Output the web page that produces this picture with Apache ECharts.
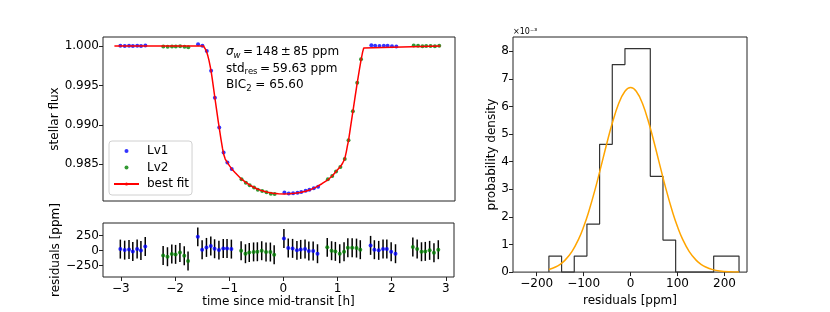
<!DOCTYPE html>
<html>
<head>
<meta charset="utf-8">
<script src="https://cdn.jsdelivr.net/npm/echarts@6/dist/echarts.min.js"></script>
<style>html,body{margin:0;padding:0;background:#fff}#c{width:830px;height:312px}</style>
</head>
<body>
<div id="c"></div>
<script>
// ---- data ----
const timeLv1 = [-3.01,-2.93,-2.85,-2.78,-2.70,-2.63,-2.55, -1.58,-1.50,-1.42,-1.34,-1.27,-1.19,-1.11,-1.04,-0.96, 0.01,0.09,0.17,0.25,0.32,0.40,0.47,0.55,0.63, 1.61,1.68,1.76,1.84,1.91,1.99,2.07];
const fluxLv1 = [1.00003,1.00001,1.00002,0.99999,1.00003,1.00000,1.00007, 1.00022,1.00002,0.99936,0.99686,0.99342,0.98966,0.98648,0.98521,0.98440, 0.98141,0.98128,0.98131,0.98137,0.98148,0.98162,0.98176,0.98196,0.98213, 1.00009,1.00002,1.00001,1.00003,1.00003,0.99998,0.99995];
const resLv1 = [27,10,22,-12,27,5,72, 231,17,55,77,33,10,38,38,27, 202,44,39,6,22,28,-6,-6,-50, 89,17,6,28,28,-17,-50];

const timeLv2 = [-2.22,-2.14,-2.06,-1.99,-1.91,-1.83,-1.76, -0.78,-0.70,-0.63,-0.55,-0.48,-0.40,-0.32,-0.24,-0.17, 0.81,0.89,0.96,1.04,1.12,1.19,1.27,1.35,1.42, 2.39,2.47,2.55,2.62,2.70,2.78,2.86];
const fluxLv2 = [0.99992,0.99990,0.99994,0.99994,0.99997,0.99990,0.99983, 0.98308,0.98266,0.98232,0.98203,0.98177,0.98159,0.98143,0.98126,0.98121, 0.98308,0.98350,0.98406,0.98465,0.98567,0.98804,0.99173,0.99533,0.99831, 1.00006,1.00003,0.99998,0.99999,1.00001,0.99997,1.00002];
const resLv2 = [-78,-100,-56,-61,-28,-85,-173, 0,-50,-28,-20,-17,0,-22,-22,-67, 56,0,-11,-50,-17,50,50,44,17, 61,28,-17,-11,6,-33,17];

const resErr = 158; // ppm, error bar half-length

const modelTime = [-3.12,-1.48,-1.46,-1.44,-1.42,-1.40,-1.38,-1.36,-1.34,-1.32,-1.30,-1.27,-1.24,-1.21,-1.19,-1.16,-1.13,-1.11,-1.08,-1.04,-1.00,-0.96,-0.90,-0.78,-0.70,-0.60,-0.50,-0.40,-0.30,-0.20,-0.10,0.00,0.10,0.20,0.30,0.40,0.50,0.60,0.70,0.81,0.89,0.96,1.04,1.08,1.12,1.15,1.17,1.19,1.23,1.27,1.31,1.35,1.39,1.42,1.45,1.47,1.49,2.88];
const modelFlux = [1.0,1.0,0.99985,0.99955,0.9992,0.99875,0.9982,0.99755,0.9968,0.9959,0.9949,0.9934,0.99195,0.9905,0.9896,0.98825,0.9870,0.9863,0.98565,0.9852,0.98478,0.9844,0.98395,0.9831,0.9827,0.98223,0.98188,0.98162,0.98143,0.98131,0.98124,0.98122,0.98125,0.98131,0.98141,0.98157,0.9818,0.98212,0.98252,0.98302,0.9835,0.98407,0.9847,0.98512,0.98567,0.9866,0.98735,0.9880,0.98985,0.99168,0.99352,0.99532,0.9970,0.9982,0.99925,0.99975,1.0,1.0];

const histEdges = [-174,-147,-120,-93,-66,-39,-12,15,42,69,96,123,150,177,204,231];
const histDensity = [0.58,0,0.58,1.74,4.63,7.52,8.10,8.10,3.47,1.16,0,0,0,0.58,0.58]; // x1e-3

const gaussX = [-174,-160,-150,-140,-125,-110,-100,-90,-75,-60,-50,-40,-25,-12,0,12,25,40,50,60,75,90,100,110,125,140,150,160,175,190,210,231];
const gaussY = [0.095,0.183,0.283,0.425,0.743,1.220,1.640,2.141,3.033,4.033,4.707,5.342,6.127,6.556,6.69,6.556,6.127,5.342,4.707,4.033,3.033,2.141,1.640,1.220,0.743,0.425,0.283,0.183,0.090,0.042,0.014,0.004];

const fluxTicks = [0.985,0.990,0.995,1.000];
const resTicks = [-250,0,250];
const timeTicks = [-3,-2,-1,0,1,2,3];
const histXTicks = [-200,-100,0,100,200];
const histYTicks = [0,1,2,3,4,5,6,7,8];

// ---- helpers ----
const FONT = 'DejaVu Sans';
const minus = v => String(v).replace('-', '\u2212');
const zip = (a, b) => a.map((v, i) => [v, b[i]]);
const errData = (t, r) => t.map((v, i) => [v, r[i] - resErr, r[i] + resErr]);
const stepData = [[histEdges[0], 0]];
histDensity.forEach((h, i) => { stepData.push([histEdges[i], h]); stepData.push([histEdges[i + 1], h]); });
stepData.push([histEdges[histEdges.length - 1], 0]);

const axisCommon = {
  axisLine: { show: false, onZero: false },
  splitLine: { show: false },
  axisTick: { show: true, length: 4, lineStyle: { color: '#222', width: 1 } },
  axisLabel: { color: '#000', fontSize: 12, fontFamily: FONT, margin: 4 },
  nameTextStyle: { color: '#000', fontSize: 12, fontFamily: FONT }
};
const xLabel = Object.assign({}, axisCommon.axisLabel, { margin: 6 });
const gridStyle = { show: true, borderColor: '#222', borderWidth: 1, backgroundColor: 'transparent' };

const errRender = (params, api) => {
  const p1 = api.coord([api.value(0), api.value(1)]);
  const p2 = api.coord([api.value(0), api.value(2)]);
  return { type: 'line', shape: { x1: p1[0], y1: p1[1], x2: p2[0], y2: p2[1] }, style: { stroke: '#000', lineWidth: 1.5 } };
};

const TS = '\u2009';
const chart = echarts.init(document.getElementById('c'), null, { renderer: 'canvas' });
chart.setOption({
  animation: false,
  textStyle: { fontFamily: FONT },
  grid: [
    Object.assign({ left: 103, top: 37, width: 352, height: 164 }, gridStyle),
    Object.assign({ left: 103, top: 223, width: 351, height: 54 }, gridStyle),
    Object.assign({ left: 513, top: 37, width: 234, height: 240 }, gridStyle)
  ],
  xAxis: [
    Object.assign({}, axisCommon, { type: 'value', gridIndex: 0, min: -3.33, max: 3.15, axisTick: { show: false }, axisLabel: { show: false } }),
    Object.assign({}, axisCommon, { type: 'value', gridIndex: 1, min: -3.33, max: 3.15,
      axisTick: Object.assign({}, axisCommon.axisTick, { customValues: timeTicks }),
      axisLabel: Object.assign({}, xLabel, { customValues: timeTicks, formatter: v => minus(v) }),
      name: 'time since mid-transit [h]', nameLocation: 'middle', nameGap: 18 }),
    Object.assign({}, axisCommon, { type: 'value', gridIndex: 2, min: -250.5, max: 248,
      axisTick: Object.assign({}, axisCommon.axisTick, { customValues: histXTicks }),
      axisLabel: Object.assign({}, xLabel, { customValues: histXTicks, formatter: v => minus(v) }),
      name: 'residuals [ppm]', nameLocation: 'middle', nameGap: 18 })
  ],
  yAxis: [
    Object.assign({}, axisCommon, { type: 'value', gridIndex: 0, min: 0.98033, max: 1.00114,
      axisTick: Object.assign({}, axisCommon.axisTick, { customValues: fluxTicks }),
      axisLabel: Object.assign({}, axisCommon.axisLabel, { customValues: fluxTicks, formatter: v => v.toFixed(3) }),
      name: 'stellar flux', nameLocation: 'middle', nameGap: 41 }),
    Object.assign({}, axisCommon, { type: 'value', gridIndex: 1, min: -438, max: 462,
      axisTick: Object.assign({}, axisCommon.axisTick, { customValues: resTicks }),
      axisLabel: Object.assign({}, axisCommon.axisLabel, { customValues: resTicks, formatter: v => minus(v) }),
      name: 'residuals [ppm]', nameLocation: 'middle', nameGap: 41 }),
    Object.assign({}, axisCommon, { type: 'value', gridIndex: 2, min: 0, max: 8.52,
      axisTick: Object.assign({}, axisCommon.axisTick, { customValues: histYTicks }),
      axisLabel: Object.assign({}, axisCommon.axisLabel, { customValues: histYTicks }),
      name: 'probability density', nameLocation: 'middle', nameGap: 15 })
  ],
  legend: {
    data: ['Lv1', 'Lv2', 'best fit'],
    orient: 'vertical', left: 109, top: 141,
    itemWidth: 25, itemHeight: 4, itemGap: 0.5,
    padding: [2, 3, 3, 4],
    borderColor: '#d0d0d0', borderWidth: 1, borderRadius: 3,
    backgroundColor: 'rgba(255,255,255,0.8)',
    textStyle: { color: '#000', fontSize: 12, fontFamily: FONT, lineHeight: 16, padding: [0, 0, 0, 3] }
  },
  series: [
    { name: 'Lv1', type: 'scatter', xAxisIndex: 0, yAxisIndex: 0, data: zip(timeLv1, fluxLv1), symbol: 'circle', symbolSize: 4, itemStyle: { color: '#0000ff' }, z: 3 },
    { name: 'Lv2', type: 'scatter', xAxisIndex: 0, yAxisIndex: 0, data: zip(timeLv2, fluxLv2), symbol: 'circle', symbolSize: 4, itemStyle: { color: '#008000' }, z: 3 },
    { name: 'best fit', type: 'line', xAxisIndex: 0, yAxisIndex: 0, data: zip(modelTime, modelFlux), showSymbol: false, symbol: 'none', lineStyle: { color: '#ff0000', width: 1.5 }, itemStyle: { color: '#ff0000' }, z: 4 },
    { type: 'custom', xAxisIndex: 1, yAxisIndex: 1, data: errData(timeLv1, resLv1), renderItem: errRender, encode: { x: 0, y: [1, 2] }, z: 2 },
    { type: 'custom', xAxisIndex: 1, yAxisIndex: 1, data: errData(timeLv2, resLv2), renderItem: errRender, encode: { x: 0, y: [1, 2] }, z: 2 },
    { type: 'scatter', xAxisIndex: 1, yAxisIndex: 1, data: zip(timeLv1, resLv1), symbol: 'circle', symbolSize: 4, itemStyle: { color: '#0000ff' }, z: 3 },
    { type: 'scatter', xAxisIndex: 1, yAxisIndex: 1, data: zip(timeLv2, resLv2), symbol: 'circle', symbolSize: 4, itemStyle: { color: '#008000' }, z: 3 },
    { type: 'line', xAxisIndex: 2, yAxisIndex: 2, data: stepData, showSymbol: false, symbol: 'none', lineStyle: { color: '#333', width: 1.2 }, z: 2 },
    { type: 'line', xAxisIndex: 2, yAxisIndex: 2, data: zip(gaussX, gaussY), smooth: 0.4, showSymbol: false, symbol: 'none', lineStyle: { color: '#ffa500', width: 1.5 }, z: 3 }
  ],
  graphic: [
    {
      type: 'text', left: 226, top: 44, z: 10,
      style: {
        text: '{it|σ}{isub|w}{n|' + TS + '=' + TS + '148' + TS + '±' + TS + '85 ppm}\n{n|std}{sub|res}{n|' + TS + '=' + TS + '59.63 ppm}\n{n|BIC}{sub|2}{n| = 65.60}',
        fill: '#000',
        rich: {
          n: { fontSize: 12, fontFamily: FONT, lineHeight: 16.5, fill: '#000' },
          it: { fontSize: 12, fontFamily: FONT, fontStyle: 'italic', lineHeight: 16.5, fill: '#000' },
          sub: { fontSize: 8.5, fontFamily: FONT, lineHeight: 16.5, padding: [7, 0, 0, 0], fill: '#000' },
          isub: { fontSize: 8.5, fontFamily: FONT, fontStyle: 'italic', lineHeight: 16.5, padding: [7, 0, 0, 0], fill: '#000' }
        }
      }
    },
    { type: 'text', left: 513, top: 28, z: 10, style: { text: '×10⁻³', fontSize: 8, fontFamily: FONT, fill: '#000' } }
  ]
});
</script>
</body>
</html>
